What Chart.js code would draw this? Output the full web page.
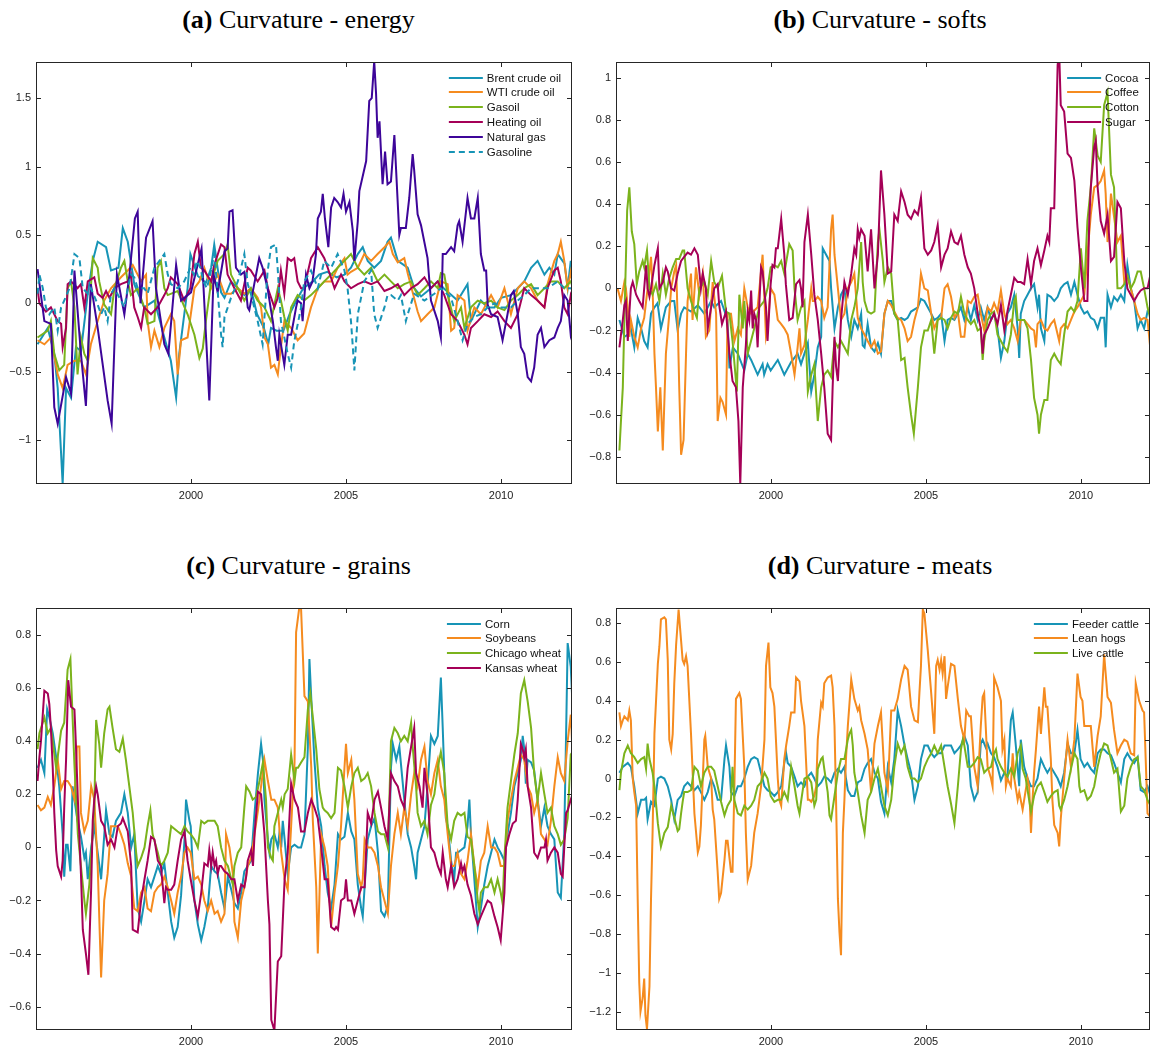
<!DOCTYPE html>
<html>
<head>
<meta charset="utf-8">
<title>Curvature</title>
<script src="https://cdn.jsdelivr.net/npm/chart.js@4.4.0/dist/chart.umd.min.js"></script>
<style>
  body { margin: 0; background: #fff; width: 1150px; height: 1047px; position: relative; overflow: hidden; }
  .title { position: absolute; font-family: "Liberation Serif", "Times New Roman", serif; font-size: 26px; line-height: 1; color: #000; text-align: center; white-space: nowrap; }
  .panel { position: absolute; }
</style>
</head>
<body>
<div class="title" style="left:0px;width:597px;top:7px"><b>(a)</b> Curvature - energy</div>
<div class="title" style="left:610px;width:540px;top:7px"><b>(b)</b> Curvature - softs</div>
<div class="title" style="left:0px;width:597px;top:553px"><b>(c)</b> Curvature - grains</div>
<div class="title" style="left:610px;width:540px;top:553px"><b>(d)</b> Curvature - meats</div>
<div class="panel" id="pa"><canvas id="ca"></canvas></div>
<div class="panel" id="pb"><canvas id="cb"></canvas></div>
<div class="panel" id="pc"><canvas id="cc"></canvas></div>
<div class="panel" id="pd"><canvas id="cd"></canvas></div>
<script>
// tick labels
const xTicks = [2000, 2005, 2010];
const yTicksEnergy = [-1, -0.5, 0, 0.5, 1, 1.5];
const yTicksSofts = [-0.8, -0.6, -0.4, -0.2, 0, 0.2, 0.4, 0.6, 0.8, 1];
const yTicksGrains = [-0.6, -0.4, -0.2, 0, 0.2, 0.4, 0.6, 0.8];
const yTicksMeats = [-1.2, -1, -0.8, -0.6, -0.4, -0.2, 0, 0.2, 0.4, 0.6, 0.8];

// series: [year, curvature]
// (a) energy
const brent = [[1995.05,-0.3],[1995.38,-0.18],[1995.59,-0.37],[1995.7,-0.62],[1995.86,-1.32],[1995.97,-0.62],[1996.13,-0.69],[1996.29,-0.32],[1996.45,-0.35],[1996.67,0.07],[1996.83,0.31],[1996.99,0.45],[1997.26,0.41],[1997.42,0.24],[1997.66,0.26],[1997.8,0.55],[1997.96,0.45],[1998.17,0.14],[1998.49,-0.03],[1998.82,0.02],[1999.14,-0.25],[1999.35,-0.42],[1999.52,-0.69],[1999.62,-0.37],[1999.89,0.11],[1999.98,0.36],[2000.22,0.2],[2000.48,0.15],[2000.65,0.26],[2000.75,0.43],[2000.97,0.08],[2001.08,0.04],[2001.29,0.16],[2001.51,0.11],[2001.72,0.06],[2001.93,0.11],[2002.13,-0.08],[2002.35,-0.18],[2002.49,-0.3],[2002.58,-0.18],[2002.76,-0.2],[2002.98,-0.2],[2003.18,-0.08],[2003.4,0.02],[2003.62,0.11],[2003.93,0.16],[2004.13,0.21],[2004.4,0.23],[2004.7,0.19],[2004.95,0.21],[2005.16,0.26],[2005.38,0.36],[2005.54,0.41],[2005.7,0.31],[2005.91,0.26],[2006.13,0.31],[2006.34,0.45],[2006.45,0.48],[2006.67,0.31],[2006.99,0.26],[2007.2,0.11],[2007.42,0.05],[2007.74,0.11],[2007.95,0.16],[2008.15,0.11],[2008.6,0.02],[2008.92,0.14],[2009.03,-0.13],[2009.35,0.02],[2009.57,-0.03],[2009.79,-0.03],[2010,0.04],[2010.32,0.06],[2010.54,0.11],[2010.75,0.16],[2010.97,0.26],[2011.18,0.31],[2011.4,0.21],[2011.56,0.26],[2011.72,0.21],[2011.83,0.36],[2012.05,0.29],[2012.15,0.11],[2012.25,0.31],[2012.31,0.14]];
const wti = [[1995.05,-0.27],[1995.27,-0.3],[1995.48,-0.25],[1995.7,-0.52],[1995.86,-0.62],[1996.02,-0.45],[1996.24,-0.42],[1996.45,-0.42],[1996.61,-0.52],[1996.77,-0.3],[1996.99,-0.13],[1997.2,0.02],[1997.42,0.11],[1997.74,0.19],[1997.96,0.24],[1998.12,0.28],[1998.39,0.16],[1998.55,0.21],[1998.6,-0.13],[1998.71,-0.32],[1998.82,-0.2],[1998.98,-0.32],[1999.14,-0.18],[1999.35,-0.08],[1999.46,-0.13],[1999.57,-0.52],[1999.68,-0.27],[1999.89,-0.25],[2000.11,0.11],[2000.27,0.16],[2000.43,0.26],[2000.65,0.11],[2000.86,0.21],[2001.08,0.07],[2001.29,0.07],[2001.51,0.11],[2001.72,0.07],[2001.93,0.11],[2002.15,0.04],[2002.26,-0.03],[2002.37,-0.25],[2002.48,-0.3],[2002.58,-0.47],[2002.69,-0.45],[2002.8,-0.52],[2002.9,-0.32],[2003.01,-0.13],[2003.23,-0.18],[2003.44,-0.27],[2003.65,-0.22],[2003.87,-0.03],[2004.09,0.11],[2004.3,0.16],[2004.52,0.16],[2004.73,0.26],[2004.95,0.33],[2005.05,0.21],[2005.16,0.23],[2005.38,0.26],[2005.59,0.36],[2005.81,0.31],[2006.02,0.36],[2006.24,0.41],[2006.4,0.45],[2006.51,0.36],[2006.67,0.3],[2006.88,0.33],[2006.99,0.22],[2007.31,-0.06],[2007.42,-0.13],[2007.63,-0.08],[2007.85,-0.03],[2008.06,0.16],[2008.28,0.14],[2008.39,-0.2],[2008.49,-0.18],[2008.6,0.06],[2008.82,0.02],[2008.92,-0.2],[2009.14,-0.03],[2009.35,-0.08],[2009.68,0.06],[2009.89,-0.03],[2010.11,0.11],[2010.32,-0.08],[2010.54,0.11],[2010.75,0.16],[2010.97,0.11],[2011.18,0.02],[2011.4,-0.03],[2011.5,0.14],[2011.72,0.31],[2011.83,0.36],[2011.93,0.45],[2012.04,0.31],[2012.15,0.11],[2012.25,0.23],[2012.31,0.15]];
const gasoil = [[1995.05,-0.25],[1995.38,-0.2],[1995.48,-0.13],[1995.59,-0.37],[1995.75,-0.49],[1995.91,-0.45],[1996.02,0.11],[1996.13,0.16],[1996.24,-0.03],[1996.34,-0.52],[1996.45,-0.25],[1996.56,-0.37],[1996.67,-0.42],[1996.77,0.11],[1996.83,0.33],[1996.99,0.26],[1997.04,0.16],[1997.2,-0.01],[1997.42,-0.08],[1997.53,0.11],[1997.74,0.26],[1997.85,0.31],[1997.96,0.16],[1998.06,0.06],[1998.28,0.11],[1998.49,-0.03],[1998.6,-0.15],[1998.82,-0.13],[1998.92,0.26],[1999.03,0.31],[1999.14,0.11],[1999.25,0.06],[1999.57,0.09],[1999.89,-0.08],[2000.11,-0.23],[2000.27,-0.4],[2000.38,-0.33],[2000.48,-0.13],[2000.65,0.16],[2000.86,0.31],[2001.08,0.36],[2001.18,0.43],[2001.29,0.21],[2001.51,0.11],[2001.72,0.02],[2001.93,0.11],[2002.15,0.02],[2002.37,-0.03],[2002.58,-0.13],[2002.8,0.11],[2002.9,0.02],[2003.01,-0.1],[2003.12,-0.2],[2003.23,-0.03],[2003.44,0.06],[2003.65,0.02],[2003.87,0.06],[2004.09,0.11],[2004.3,0.16],[2004.52,0.21],[2004.73,0.26],[2004.95,0.31],[2005.16,0.36],[2005.38,0.26],[2005.59,0.21],[2005.81,0.26],[2006.02,0.16],[2006.24,0.21],[2006.45,0.16],[2006.67,0.11],[2006.88,0.14],[2007.1,0.16],[2007.31,0.06],[2007.53,0.11],[2007.74,0.16],[2007.96,0.11],[2008.06,0.22],[2008.17,0.21],[2008.28,0.06],[2008.49,-0.13],[2008.71,-0.03],[2008.82,-0.18],[2009.03,-0.03],[2009.25,0.02],[2009.46,0],[2009.68,0.02],[2009.89,-0.03],[2010.11,-0.05],[2010.32,0.02],[2010.54,0.06],[2010.75,0.11],[2010.97,0.14],[2011.18,0.06],[2011.4,0.11],[2011.61,0.16],[2011.83,0.16],[2012.04,0.11],[2012.25,0.16],[2012.31,0.12]];
const heatingOil = [[1995.05,0.11],[1995.11,0],[1995.32,-0.06],[1995.48,-0.03],[1995.59,-0.08],[1995.7,-0.13],[1995.81,-0.15],[1995.86,-0.32],[1995.97,-0.18],[1996.02,0.14],[1996.13,0.16],[1996.34,0.11],[1996.45,0.14],[1996.56,-0.03],[1996.67,0.16],[1996.88,0.19],[1996.99,0.07],[1997.15,0.04],[1997.26,0.09],[1997.37,0.04],[1997.53,0.11],[1997.74,0.14],[1997.96,0.16],[1998.06,0.21],[1998.17,-0.03],[1998.28,-0.1],[1998.39,-0.18],[1998.49,-0.03],[1998.71,-0.08],[1998.92,-0.03],[1999.14,0.06],[1999.25,0.11],[1999.35,0.19],[1999.57,0.14],[1999.78,0.02],[1999.98,0.11],[2000.11,0.36],[2000.22,0.45],[2000.32,0.26],[2000.43,0.24],[2000.65,0.16],[2000.75,0.28],[2000.97,0.43],[2001.08,0.41],[2001.18,0.21],[2001.4,0.11],[2001.61,0.02],[2001.83,0.26],[2001.93,0.24],[2002.15,0.16],[2002.37,0.24],[2002.48,0.11],[2002.69,-0.03],[2002.8,0.04],[2002.9,0.24],[2003.01,0.07],[2003.12,0.33],[2003.23,0.31],[2003.33,0.33],[2003.44,0.16],[2003.55,0.11],[2003.65,0.11],[2003.87,0.33],[2004.09,0.41],[2004.3,0.33],[2004.41,0.26],[2004.63,0.11],[2004.84,0.21],[2004.95,0.16],[2005.16,0.11],[2005.38,0.14],[2005.59,0.16],[2005.81,0.14],[2006.02,0.16],[2006.24,0.09],[2006.45,0.11],[2006.67,0.14],[2006.88,0.06],[2007.1,0.11],[2007.31,0.14],[2007.53,0.19],[2007.74,0.11],[2007.96,0.16],[2008.17,0.06],[2008.39,-0.08],[2008.6,-0.13],[2008.82,-0.23],[2008.92,-0.3],[2009.03,-0.18],[2009.25,-0.13],[2009.46,-0.08],[2009.68,-0.1],[2009.89,-0.06],[2010.11,-0.13],[2010.32,-0.18],[2010.54,-0.08],[2010.75,0.11],[2010.97,0.06],[2011.18,0.02],[2011.4,-0.03],[2011.5,0.11],[2011.72,0.24],[2011.83,0.26],[2011.93,0.16],[2012.04,-0.03],[2012.15,-0.08],[2012.25,0.06],[2012.31,0.02]];
const naturalGas = [[1995.05,0.25],[1995.27,-0.13],[1995.48,-0.15],[1995.59,-0.76],[1995.7,-0.88],[1995.97,-0.54],[1996.13,-0.66],[1996.24,0.24],[1996.45,-0.37],[1996.61,-0.75],[1996.77,0.14],[1996.99,-0.18],[1997.31,-0.71],[1997.44,-0.88],[1997.61,0.21],[1997.85,-0.08],[1998.01,0.2],[1998.19,0.62],[1998.28,0.67],[1998.37,0],[1998.55,0.48],[1998.76,0.6],[1998.87,0.11],[1999.14,-0.3],[1999.27,-0.37],[1999.52,0.28],[1999.68,0.02],[2000,0.08],[2000.34,0.4],[2000.59,-0.71],[2000.73,0.21],[2000.86,0.08],[2001.08,0.38],[2001.18,0.4],[2001.24,0.67],[2001.34,0.68],[2001.45,0.26],[2001.61,0.21],[2001.72,0.23],[2001.83,-0.03],[2001.88,-0.05],[2002.04,0.14],[2002.2,0.33],[2002.31,0.26],[2002.47,0.11],[2002.58,-0.05],[2002.64,-0.13],[2002.74,-0.32],[2002.8,-0.42],[2002.85,-0.23],[2003.01,-0.45],[2003.12,-0.23],[2003.23,-0.23],[2003.39,-0.03],[2003.44,0.02],[2003.55,0],[2003.6,-0.13],[2003.71,0.21],[2003.82,0.11],[2003.92,0.16],[2004.03,0.36],[2004.09,0.62],[2004.19,0.67],[2004.25,0.8],[2004.32,0.62],[2004.43,0.41],[2004.52,0.7],[2004.62,0.77],[2004.73,0.74],[2004.84,0.7],[2004.92,0.8],[2005,0.67],[2005.11,0.74],[2005.22,0.53],[2005.27,0.31],[2005.38,0.6],[2005.43,0.82],[2005.65,1.04],[2005.75,1.48],[2005.83,1.5],[2005.91,1.77],[2005.97,1.53],[2006.02,1.21],[2006.08,1.33],[2006.18,0.87],[2006.26,1.11],[2006.34,0.87],[2006.45,0.89],[2006.56,1.23],[2006.72,0.5],[2006.77,0.55],[2006.93,0.55],[2007.04,0.77],[2007.15,1.09],[2007.2,0.97],[2007.31,0.65],[2007.42,0.57],[2007.63,0.33],[2007.74,0.02],[2007.96,-0.13],[2008.06,-0.25],[2008.12,0.36],[2008.22,0.36],[2008.39,0.41],[2008.49,0.38],[2008.6,0.57],[2008.65,0.6],[2008.76,0.45],[2008.92,0.77],[2009.03,0.62],[2009.14,0.62],[2009.25,0.77],[2009.35,0.36],[2009.46,0.24],[2009.52,0.24],[2009.57,-0.01],[2009.68,-0.08],[2009.89,-0.1],[2010.05,-0.27],[2010.11,-0.2],[2010.21,-0.08],[2010.32,0.06],[2010.41,0.09],[2010.54,-0.08],[2010.64,-0.32],[2010.75,-0.37],[2010.86,-0.54],[2010.97,-0.57],[2011.07,-0.47],[2011.18,-0.23],[2011.29,-0.18],[2011.4,-0.32],[2011.56,-0.27],[2011.72,-0.25],[2011.83,-0.18],[2011.93,-0.13],[2012.04,0.06],[2012.15,0.02],[2012.25,-0.23],[2012.31,-0.18]];
const gasoline = [[1995.05,0.07],[1995.11,0.21],[1995.22,0.11],[1995.32,-0.03],[1995.43,-0.08],[1995.59,-0.03],[1995.7,-0.2],[1995.81,-0.03],[1995.91,0.02],[1996.08,0.11],[1996.18,0.26],[1996.24,0.36],[1996.4,0.33],[1996.51,0.11],[1996.67,0.07],[1996.77,0.11],[1996.94,0.02],[1997.1,-0.08],[1997.2,-0.03],[1997.31,-0.13],[1997.42,0.07],[1997.53,0.11],[1997.74,0.02],[1997.85,-0.03],[1997.96,0.11],[1998.06,0.21],[1998.17,0.19],[1998.28,0.11],[1998.49,0.11],[1998.6,0.07],[1998.82,0.26],[1998.98,0.31],[1999.14,0.36],[1999.25,0.21],[1999.35,0.14],[1999.57,0.11],[1999.78,0.16],[1999.98,0.26],[2000.09,0.21],[2000.19,0.31],[2000.3,0.26],[2000.4,0.16],[2000.51,0.11],[2000.62,0.21],[2000.75,0.36],[2000.86,0.09],[2000.97,-0.23],[2001.02,-0.32],[2001.08,-0.1],[2001.29,0.04],[2001.51,0.16],[2001.72,0.36],[2001.83,0.14],[2001.93,0.07],[2002.15,-0.13],[2002.31,-0.3],[2002.47,0.23],[2002.58,0.41],[2002.74,0.43],[2002.8,0.24],[2002.9,-0.13],[2003.12,-0.37],[2003.23,-0.47],[2003.33,-0.28],[2003.55,-0.03],[2003.65,0.16],[2003.87,0.24],[2004.09,0.11],[2004.3,0.31],[2004.52,0.26],[2004.73,0.36],[2004.95,0.24],[2005.05,0.11],[2005.16,-0.13],[2005.22,-0.32],[2005.27,-0.49],[2005.38,-0.08],[2005.59,0.16],[2005.81,0.24],[2005.91,-0.08],[2006.02,-0.18],[2006.24,-0.03],[2006.34,0.06],[2006.45,0.06],[2006.67,0.02],[2006.77,0.06],[2006.93,-0.13],[2006.99,-0.08],[2007.2,0.07],[2007.53,0.02],[2007.85,0.07],[2008.06,0.11],[2008.39,0.04],[2008.6,-0.13],[2008.76,-0.27],[2008.92,-0.15],[2009.14,-0.1],[2009.35,-0.08],[2009.57,-0.03],[2009.79,0],[2009.99,-0.03],[2010.32,-0.03],[2010.54,0.02],[2010.75,0.06],[2010.97,0.11],[2011.29,0.11],[2011.5,0.11],[2011.83,0.16],[2012.04,0.11],[2012.25,0.11],[2012.31,0.1]];

// (b) softs
const cocoa = [[1995.11,-0.15],[1995.27,-0.23],[1995.38,-0.22],[1995.48,-0.19],[1995.59,-0.28],[1995.7,-0.14],[1995.81,-0.19],[1995.91,-0.25],[1996.02,-0.28],[1996.13,-0.12],[1996.24,-0.09],[1996.34,-0.07],[1996.45,-0.19],[1996.61,-0.09],[1996.78,-0.06],[1996.88,-0.06],[1996.99,-0.2],[1997.1,-0.12],[1997.2,-0.09],[1997.42,-0.11],[1997.64,-0.08],[1997.85,-0.12],[1998.07,-0.06],[1998.17,-0.09],[1998.39,-0.06],[1998.6,-0.15],[1998.66,-0.38],[1998.77,-0.28],[1998.93,-0.31],[1999.14,-0.39],[1999.25,-0.31],[1999.36,-0.34],[1999.57,-0.41],[1999.73,-0.36],[1999.78,-0.41],[1999.89,-0.36],[1999.99,-0.39],[2000.22,-0.34],[2000.43,-0.41],[2000.65,-0.35],[2000.86,-0.31],[2000.97,-0.36],[2001.08,-0.31],[2001.19,-0.26],[2001.3,-0.49],[2001.4,-0.41],[2001.51,-0.28],[2001.62,-0.23],[2001.67,0.19],[2001.78,0.16],[2001.89,0.13],[2001.94,0],[2002.05,-0.19],[2002.16,-0.09],[2002.26,-0.03],[2002.37,0],[2002.48,-0.15],[2002.59,-0.23],[2002.69,-0.15],[2002.8,-0.19],[2002.91,-0.12],[2002.96,-0.27],[2003.02,-0.28],[2003.12,-0.17],[2003.23,-0.28],[2003.34,-0.3],[2003.45,-0.26],[2003.55,-0.31],[2003.66,-0.12],[2003.77,-0.06],[2003.88,-0.06],[2003.98,-0.12],[2004.09,-0.15],[2004.2,-0.14],[2004.31,-0.15],[2004.41,-0.14],[2004.52,-0.11],[2004.74,-0.09],[2004.84,-0.05],[2004.95,-0.06],[2005.06,-0.09],[2005.17,-0.12],[2005.27,-0.15],[2005.38,-0.14],[2005.49,-0.12],[2005.6,-0.25],[2005.7,-0.15],[2005.81,-0.14],[2005.92,-0.15],[2006.03,-0.12],[2006.13,-0.09],[2006.24,-0.15],[2006.35,-0.09],[2006.45,-0.15],[2006.56,-0.08],[2006.67,-0.15],[2006.77,-0.09],[2006.88,-0.15],[2006.99,-0.09],[2007.1,-0.15],[2007.2,-0.12],[2007.31,-0.19],[2007.42,-0.33],[2007.53,-0.25],[2007.63,-0.12],[2007.74,-0.09],[2007.85,-0.03],[2007.96,-0.19],[2008.01,-0.33],[2008.06,-0.12],[2008.17,-0.06],[2008.28,-0.03],[2008.39,0],[2008.49,0.02],[2008.6,-0.09],[2008.65,-0.03],[2008.71,-0.19],[2008.82,-0.25],[2008.92,-0.03],[2009.03,-0.04],[2009.14,-0.06],[2009.25,-0.04],[2009.35,0],[2009.46,0.02],[2009.57,0.03],[2009.68,-0.03],[2009.79,0.03],[2009.89,-0.03],[2010,-0.09],[2010.11,-0.12],[2010.21,-0.11],[2010.32,-0.14],[2010.43,-0.15],[2010.54,-0.19],[2010.64,-0.14],[2010.75,-0.14],[2010.8,-0.28],[2010.86,-0.03],[2010.97,-0.09],[2011.07,-0.04],[2011.18,-0.06],[2011.29,-0.03],[2011.4,-0.06],[2011.5,0.11],[2011.61,0],[2011.72,-0.06],[2011.83,-0.19],[2011.93,-0.15],[2012.04,-0.19],[2012.15,-0.11],[2012.25,-0.12],[2012.31,-0.14]];
const coffee = [[1995.05,0],[1995.16,-0.06],[1995.27,0.03],[1995.32,0],[1995.38,-0.09],[1995.43,-0.23],[1995.48,-0.15],[1995.59,-0.23],[1995.7,-0.28],[1995.81,-0.19],[1995.91,-0.14],[1996.02,0],[1996.13,0.15],[1996.18,0],[1996.24,-0.31],[1996.29,-0.47],[1996.35,-0.68],[1996.43,-0.47],[1996.51,-0.77],[1996.61,-0.31],[1996.72,-0.12],[1996.78,0],[1996.88,0.08],[1996.94,0.11],[1996.99,-0.15],[1997.04,-0.47],[1997.1,-0.79],[1997.18,-0.72],[1997.26,-0.31],[1997.31,-0.06],[1997.42,0.07],[1997.47,-0.15],[1997.58,0.1],[1997.69,-0.03],[1997.8,0.07],[1997.9,-0.23],[1998.01,-0.2],[1998.12,0.03],[1998.23,-0.12],[1998.28,-0.63],[1998.37,-0.52],[1998.44,-0.54],[1998.55,-0.6],[1998.6,-0.12],[1998.71,-0.12],[1998.82,-0.25],[1998.93,-0.19],[1999.03,-0.22],[1999.14,0],[1999.25,-0.09],[1999.36,-0.12],[1999.57,-0.09],[1999.73,0.16],[1999.84,-0.23],[1999.89,-0.19],[1999.99,0],[2000.11,-0.03],[2000.22,-0.15],[2000.33,-0.17],[2000.43,-0.19],[2000.54,-0.22],[2000.65,-0.31],[2000.76,-0.41],[2000.86,-0.28],[2000.92,-0.19],[2000.97,-0.31],[2001.08,-0.27],[2001.19,-0.15],[2001.3,0],[2001.35,-0.06],[2001.4,-0.06],[2001.51,-0.04],[2001.62,-0.06],[2001.72,-0.14],[2001.83,-0.09],[2001.94,0.28],[2001.99,0.35],[2002.05,0.16],[2002.16,0],[2002.26,-0.15],[2002.37,-0.12],[2002.48,0],[2002.59,0.03],[2002.69,0.07],[2002.8,-0.14],[2002.91,-0.19],[2003.02,-0.22],[2003.12,-0.25],[2003.23,-0.28],[2003.34,-0.25],[2003.45,-0.31],[2003.55,-0.3],[2003.66,-0.12],[2003.77,-0.06],[2003.88,-0.08],[2003.98,-0.11],[2004.09,-0.14],[2004.2,-0.15],[2004.31,-0.19],[2004.41,-0.25],[2004.52,-0.23],[2004.63,-0.15],[2004.74,-0.09],[2004.84,0.07],[2004.95,0],[2005.06,-0.01],[2005.17,-0.12],[2005.27,-0.19],[2005.38,-0.15],[2005.49,-0.14],[2005.6,0],[2005.7,0.02],[2005.81,-0.04],[2005.92,-0.14],[2006.03,-0.11],[2006.13,-0.23],[2006.24,-0.23],[2006.35,-0.06],[2006.45,-0.07],[2006.56,-0.04],[2006.67,-0.03],[2006.77,-0.12],[2006.88,-0.2],[2006.99,-0.09],[2007.1,-0.11],[2007.2,-0.07],[2007.31,-0.11],[2007.42,-0.01],[2007.53,-0.12],[2007.63,-0.17],[2007.74,-0.15],[2007.85,-0.19],[2007.96,-0.25],[2008.06,-0.15],[2008.17,-0.15],[2008.28,-0.17],[2008.39,-0.19],[2008.49,-0.2],[2008.55,-0.28],[2008.6,-0.17],[2008.71,-0.15],[2008.82,-0.19],[2008.92,-0.2],[2009.03,-0.17],[2009.14,-0.15],[2009.3,-0.25],[2009.35,-0.19],[2009.46,-0.17],[2009.57,-0.19],[2009.68,-0.15],[2009.79,-0.11],[2009.89,-0.09],[2010,-0.06],[2010.11,-0.03],[2010.21,0.16],[2010.32,0.35],[2010.43,0.48],[2010.54,0.49],[2010.64,0.51],[2010.75,0.56],[2010.8,0.45],[2010.86,0.22],[2010.91,0.3],[2010.97,0.45],[2011.18,0.22],[2011.29,0.25],[2011.4,0.03],[2011.5,0.06],[2011.61,0],[2011.72,-0.06],[2011.83,-0.12],[2011.93,-0.15],[2012.04,-0.14],[2012.15,-0.15],[2012.25,-0.3]];
const cotton = [[1995.11,-0.77],[1995.16,-0.63],[1995.22,-0.47],[1995.27,-0.15],[1995.36,0.37],[1995.43,0.48],[1995.51,0.27],[1995.59,0.21],[1995.67,0.02],[1995.75,0.08],[1995.86,0.13],[1995.91,0.1],[1996,0.18],[1996.08,0],[1996.18,-0.03],[1996.29,0.02],[1996.4,-0.06],[1996.51,0.07],[1996.61,-0.03],[1996.72,0.05],[1996.83,0.1],[1996.94,0.14],[1997.04,0.14],[1997.15,0.18],[1997.2,0.18],[1997.31,0],[1997.42,-0.06],[1997.53,-0.11],[1997.61,-0.14],[1997.69,0],[1997.85,0.03],[1997.96,-0.03],[1998.07,0.13],[1998.17,0.03],[1998.28,0],[1998.42,0.06],[1998.55,-0.11],[1998.66,-0.12],[1998.76,-0.25],[1998.9,-0.49],[1998.98,-0.03],[1999.09,-0.19],[1999.14,-0.06],[1999.25,-0.31],[1999.46,-0.19],[1999.62,-0.09],[1999.78,-0.06],[1999.89,0],[1999.99,0.1],[2000.11,0.11],[2000.22,0.1],[2000.33,0.13],[2000.43,0.07],[2000.59,0.21],[2000.7,0.18],[2000.76,0],[2000.86,-0.15],[2000.97,-0.09],[2001.08,-0.06],[2001.19,-0.49],[2001.3,-0.41],[2001.4,-0.36],[2001.51,-0.63],[2001.62,-0.47],[2001.72,-0.41],[2001.83,-0.39],[2001.94,-0.42],[2002.05,-0.25],[2002.16,-0.28],[2002.26,-0.25],[2002.37,-0.28],[2002.48,-0.31],[2002.59,-0.15],[2002.69,-0.09],[2002.8,0],[2002.91,0.22],[2002.96,0.03],[2003.02,-0.06],[2003.12,-0.11],[2003.23,-0.12],[2003.34,-0.11],[2003.45,0.22],[2003.5,0.28],[2003.61,0.13],[2003.66,0.03],[2003.77,0.1],[2003.88,0.07],[2003.98,-0.12],[2004.09,-0.15],[2004.2,-0.34],[2004.31,-0.33],[2004.41,-0.47],[2004.52,-0.6],[2004.61,-0.69],[2004.74,-0.47],[2004.84,-0.28],[2004.95,-0.2],[2005.06,-0.2],[2005.17,-0.15],[2005.27,-0.31],[2005.38,-0.15],[2005.49,-0.14],[2005.6,-0.15],[2005.7,-0.19],[2005.81,-0.14],[2005.92,-0.11],[2006.03,-0.12],[2006.13,-0.04],[2006.24,-0.12],[2006.35,-0.15],[2006.45,-0.17],[2006.56,-0.15],[2006.67,-0.2],[2006.77,-0.19],[2006.83,-0.34],[2006.88,-0.25],[2006.99,-0.15],[2007.1,-0.12],[2007.2,-0.11],[2007.31,-0.22],[2007.42,-0.25],[2007.53,-0.28],[2007.63,-0.3],[2007.74,-0.22],[2007.85,-0.06],[2007.9,-0.04],[2007.96,-0.15],[2008.06,-0.15],[2008.17,-0.15],[2008.28,-0.19],[2008.39,-0.34],[2008.49,-0.52],[2008.6,-0.6],[2008.65,-0.69],[2008.71,-0.6],[2008.82,-0.53],[2008.92,-0.53],[2009.03,-0.34],[2009.14,-0.31],[2009.25,-0.34],[2009.35,-0.36],[2009.46,-0.22],[2009.57,-0.11],[2009.68,-0.09],[2009.79,-0.11],[2009.89,-0.06],[2010,0.19],[2010.11,0],[2010.16,0.16],[2010.21,0.32],[2010.32,0.48],[2010.43,0.76],[2010.54,0.63],[2010.64,0.6],[2010.75,0.87],[2010.86,0.93],[2010.97,0.54],[2011.07,0.48],[2011.13,0.22],[2011.18,0],[2011.29,0],[2011.4,0.02],[2011.5,0.06],[2011.61,0],[2011.72,0.03],[2011.83,0.08],[2011.93,0.08],[2012.04,0],[2012.15,-0.09],[2012.25,-0.15]];
const sugar = [[1995.11,-0.28],[1995.22,-0.15],[1995.27,-0.08],[1995.32,-0.06],[1995.38,-0.25],[1995.43,-0.12],[1995.48,0],[1995.54,0.03],[1995.65,-0.03],[1995.75,-0.06],[1995.86,-0.09],[1995.97,0.11],[1996.02,0],[1996.08,-0.04],[1996.13,0],[1996.24,0.11],[1996.35,0.19],[1996.4,0],[1996.51,0.03],[1996.61,0.1],[1996.67,0.08],[1996.78,0],[1996.88,-0.01],[1996.99,0.07],[1997.1,0.13],[1997.2,0.15],[1997.31,0.17],[1997.42,0.16],[1997.53,0.19],[1997.64,0.16],[1997.74,0],[1997.8,0.07],[1997.9,0],[1997.96,-0.19],[1998.07,-0.09],[1998.17,0],[1998.28,0.02],[1998.33,-0.08],[1998.42,-0.17],[1998.55,-0.11],[1998.66,-0.31],[1998.76,-0.44],[1998.87,-0.47],[1998.95,-0.63],[1999.01,-0.93],[1999.09,-0.47],[1999.19,-0.27],[1999.25,-0.11],[1999.3,-0.15],[1999.36,-0.01],[1999.41,-0.19],[1999.46,-0.12],[1999.52,-0.15],[1999.57,-0.28],[1999.62,-0.09],[1999.68,0.1],[1999.73,0.08],[1999.78,0],[1999.84,-0.09],[1999.89,-0.25],[1999.99,0.02],[2000.05,0.11],[2000.11,0.1],[2000.16,0.19],[2000.22,0.19],[2000.33,0.33],[2000.43,0.16],[2000.48,0.02],[2000.59,-0.15],[2000.7,-0.14],[2000.81,0.02],[2000.92,0.04],[2000.97,0],[2001.02,-0.09],[2001.08,0.22],[2001.19,0.35],[2001.3,0.16],[2001.4,-0.03],[2001.51,-0.15],[2001.62,-0.31],[2001.72,-0.47],[2001.83,-0.69],[2001.94,-0.72],[2001.99,-0.47],[2002.05,-0.23],[2002.1,-0.37],[2002.16,-0.44],[2002.26,-0.15],[2002.37,0.03],[2002.42,0],[2002.48,-0.03],[2002.59,0.07],[2002.69,0.19],[2002.75,0.16],[2002.8,0.28],[2002.85,0.24],[2002.91,0.28],[2003.02,0.25],[2003.12,0.08],[2003.23,0.28],[2003.34,0],[2003.45,0.16],[2003.55,0.56],[2003.66,0.35],[2003.77,0.07],[2003.88,0.08],[2003.98,0.35],[2004.09,0.32],[2004.2,0.46],[2004.31,0.41],[2004.41,0.35],[2004.52,0.33],[2004.63,0.37],[2004.74,0.35],[2004.84,0.43],[2004.95,0.19],[2005.06,0.16],[2005.17,0.18],[2005.27,0.22],[2005.38,0.3],[2005.49,0.1],[2005.6,0.16],[2005.7,0.19],[2005.81,0.27],[2005.92,0.22],[2006.03,0.21],[2006.13,0.25],[2006.24,0.16],[2006.35,0.1],[2006.45,0.07],[2006.56,0],[2006.67,-0.12],[2006.77,-0.19],[2006.83,-0.31],[2006.88,-0.22],[2006.99,-0.19],[2007.1,-0.15],[2007.2,-0.12],[2007.31,-0.17],[2007.42,-0.08],[2007.53,-0.2],[2007.63,-0.11],[2007.74,-0.03],[2007.85,0.05],[2007.96,0.03],[2008.06,0.03],[2008.17,0.02],[2008.28,0.14],[2008.39,0.02],[2008.49,0.13],[2008.6,0.19],[2008.71,0.11],[2008.82,0.18],[2008.92,0.25],[2008.98,0.22],[2009.03,0.38],[2009.14,0.38],[2009.25,1.06],[2009.3,1.12],[2009.35,0.87],[2009.46,0.84],[2009.57,0.64],[2009.68,0.62],[2009.79,0.51],[2009.89,0.29],[2010,0.1],[2010.11,-0.06],[2010.21,-0.06],[2010.27,0.32],[2010.32,0.48],[2010.43,0.67],[2010.48,0.7],[2010.54,0.48],[2010.64,0.32],[2010.75,0.26],[2010.86,0.35],[2010.97,0.13],[2011.07,0.15],[2011.18,0.41],[2011.29,0.38],[2011.4,0.13],[2011.5,0],[2011.61,-0.03],[2011.72,-0.06],[2011.83,-0.03],[2011.93,-0.01],[2012.04,0],[2012.15,0],[2012.25,0.07],[2012.31,-0.06]];

// (c) grains
const corn = [[1995.05,0.3],[1995.16,0.33],[1995.27,0.28],[1995.36,0.52],[1995.43,0.49],[1995.54,0.43],[1995.65,0.34],[1995.75,0.23],[1995.86,0.05],[1995.91,-0.11],[1995.97,0.01],[1996.02,0.01],[1996.11,-0.09],[1996.18,0.23],[1996.24,0.18],[1996.34,0.1],[1996.45,0.04],[1996.56,-0.04],[1996.61,-0.02],[1996.67,-0.12],[1996.78,0],[1996.88,0.08],[1996.99,-0.02],[1997.1,-0.12],[1997.26,0.14],[1997.37,0.05],[1997.47,0.04],[1997.58,0.1],[1997.74,0.13],[1997.85,0.2],[1997.96,0.13],[1998.07,0],[1998.17,0.05],[1998.28,-0.23],[1998.39,-0.28],[1998.5,-0.2],[1998.6,-0.12],[1998.71,-0.15],[1998.82,-0.11],[1998.93,-0.07],[1999.03,-0.1],[1999.14,-0.06],[1999.25,-0.17],[1999.36,-0.28],[1999.46,-0.34],[1999.57,-0.3],[1999.68,-0.18],[1999.79,0.03],[1999.84,0.18],[1999.95,0.1],[1999.99,0.08],[2000.11,-0.2],[2000.22,-0.29],[2000.33,-0.35],[2000.43,-0.3],[2000.54,-0.23],[2000.65,-0.07],[2000.76,-0.09],[2000.86,-0.1],[2000.97,-0.17],[2001.08,-0.23],[2001.19,-0.11],[2001.3,-0.16],[2001.4,-0.21],[2001.51,-0.23],[2001.62,-0.17],[2001.72,-0.09],[2001.83,-0.07],[2001.94,-0.05],[2002.05,0.13],[2002.16,0.28],[2002.26,0.39],[2002.32,0.33],[2002.37,0.18],[2002.48,0.03],[2002.53,-0.02],[2002.59,0.03],[2002.69,0.05],[2002.8,0],[2002.85,0.05],[2002.91,0],[2002.96,0.1],[2003.02,0.03],[2003.12,-0.1],[2003.23,0],[2003.34,0.01],[2003.45,0],[2003.55,0],[2003.66,0.05],[2003.77,0.38],[2003.82,0.71],[2003.88,0.56],[2003.98,0.33],[2004.09,0.15],[2004.2,0.08],[2004.31,-0.07],[2004.41,-0.17],[2004.52,-0.23],[2004.63,-0.14],[2004.74,0.05],[2004.84,0.03],[2004.95,0.04],[2005.06,0.13],[2005.17,0.06],[2005.27,0.03],[2005.38,-0.14],[2005.49,-0.23],[2005.54,-0.26],[2005.6,-0.15],[2005.7,0.03],[2005.81,0.08],[2005.92,0.11],[2006.03,-0.02],[2006.13,-0.24],[2006.24,-0.26],[2006.35,-0.22],[2006.45,0.3],[2006.51,0.39],[2006.62,0.33],[2006.72,0.38],[2006.88,0.18],[2006.99,0.05],[2007.1,0],[2007.2,-0.07],[2007.26,-0.12],[2007.31,-0.02],[2007.42,0.03],[2007.53,0.08],[2007.63,0.23],[2007.74,0.42],[2007.85,0.39],[2007.96,0.42],[2008.06,0.64],[2008.12,0.45],[2008.22,0.11],[2008.28,0.08],[2008.39,-0.05],[2008.49,-0.12],[2008.55,-0.02],[2008.6,-0.02],[2008.71,-0.01],[2008.82,0],[2008.92,0.08],[2008.98,0.18],[2009.03,0.05],[2009.14,-0.12],[2009.25,-0.3],[2009.35,-0.23],[2009.46,-0.14],[2009.57,-0.07],[2009.68,-0.02],[2009.79,0.03],[2009.89,0],[2009.99,-0.02],[2010.11,-0.05],[2010.21,0.05],[2010.32,0.13],[2010.43,0.23],[2010.54,0.28],[2010.64,0.33],[2010.7,0.42],[2010.75,0.37],[2010.8,0.24],[2010.86,0.33],[2010.97,0.32],[2011.07,0.29],[2011.18,0.18],[2011.29,0.08],[2011.4,0.15],[2011.5,0.08],[2011.61,0.05],[2011.72,0.03],[2011.83,-0.17],[2011.93,-0.19],[2012.04,0.05],[2012.1,0.43],[2012.15,0.77],[2012.25,0.68],[2012.31,0.53]];
const soybeans = [[1995.05,0.16],[1995.16,0.14],[1995.27,0.15],[1995.38,0.19],[1995.48,0.16],[1995.59,0.23],[1995.7,0.33],[1995.81,0.22],[1995.91,0.25],[1996.02,0.25],[1996.13,0.23],[1996.24,0.18],[1996.32,0.38],[1996.4,0.38],[1996.45,0.13],[1996.56,0.06],[1996.67,0.1],[1996.78,0.23],[1996.88,0.18],[1996.99,-0.07],[1997.1,-0.49],[1997.2,-0.2],[1997.31,-0.1],[1997.42,0.08],[1997.53,0.08],[1997.64,0.08],[1997.74,0.05],[1997.85,0.01],[1997.96,-0.06],[1998.07,-0.11],[1998.17,-0.23],[1998.28,-0.24],[1998.39,-0.17],[1998.5,-0.15],[1998.6,-0.23],[1998.71,-0.24],[1998.82,-0.17],[1998.93,-0.15],[1999.03,-0.14],[1999.14,-0.11],[1999.25,-0.15],[1999.36,-0.2],[1999.46,-0.25],[1999.57,-0.17],[1999.68,-0.11],[1999.79,-0.02],[1999.89,0],[1999.99,-0.02],[2000.11,-0.12],[2000.22,-0.11],[2000.33,-0.14],[2000.43,-0.2],[2000.54,-0.24],[2000.65,-0.2],[2000.76,-0.25],[2000.86,-0.24],[2000.97,-0.28],[2001.08,-0.25],[2001.13,0.05],[2001.24,0],[2001.35,-0.1],[2001.4,-0.28],[2001.51,-0.34],[2001.62,-0.2],[2001.72,-0.15],[2001.83,-0.07],[2001.94,-0.04],[2002.05,0.05],[2002.16,0.14],[2002.26,0.23],[2002.37,0.33],[2002.48,0.25],[2002.59,0.18],[2002.69,0.18],[2002.8,0.15],[2002.91,-0.02],[2003.02,-0.12],[2003.12,-0.16],[2003.23,0.08],[2003.34,0.32],[2003.39,0.81],[2003.5,0.91],[2003.55,0.9],[2003.66,0.57],[2003.77,0.55],[2003.88,0.3],[2003.93,0.1],[2004.04,-0.15],[2004.09,-0.4],[2004.2,0.05],[2004.31,0],[2004.41,-0.07],[2004.52,-0.3],[2004.63,-0.17],[2004.74,-0.07],[2004.84,0.08],[2004.95,0.3],[2005,0.39],[2005.06,0.28],[2005.17,0.33],[2005.27,0.18],[2005.38,-0.1],[2005.49,-0.15],[2005.54,-0.12],[2005.6,0.03],[2005.7,0],[2005.81,0],[2005.92,-0.02],[2006.03,-0.07],[2006.13,-0.15],[2006.24,-0.2],[2006.35,-0.25],[2006.45,-0.07],[2006.56,0.05],[2006.67,0.13],[2006.77,0.05],[2006.88,0.15],[2006.99,0.08],[2007.1,0.2],[2007.2,0.28],[2007.31,0.23],[2007.42,0.33],[2007.53,0.38],[2007.63,0.25],[2007.74,0.2],[2007.85,0.28],[2007.96,0.33],[2008.06,0.23],[2008.17,0.18],[2008.28,0.05],[2008.39,-0.07],[2008.49,-0.07],[2008.6,-0.02],[2008.71,-0.1],[2008.82,-0.12],[2008.92,-0.05],[2009.03,0.05],[2009.14,-0.07],[2009.25,-0.15],[2009.35,-0.05],[2009.46,-0.02],[2009.57,0.08],[2009.68,0],[2009.79,0],[2009.89,-0.02],[2009.99,-0.07],[2010.11,-0.07],[2010.21,0.1],[2010.32,0.18],[2010.43,0.25],[2010.54,0.3],[2010.64,0.35],[2010.75,0.33],[2010.86,0.23],[2010.97,0.2],[2011.07,0.13],[2011.18,0.18],[2011.29,0.05],[2011.4,0.03],[2011.5,0.01],[2011.61,0.1],[2011.72,0.23],[2011.83,0.34],[2011.93,0.28],[2012.04,0.25],[2012.15,0.4],[2012.25,0.5],[2012.31,0.35]];
const chicagoWheat = [[1995.05,0.37],[1995.11,0.43],[1995.27,0.49],[1995.38,0.43],[1995.48,0.45],[1995.65,0.3],[1995.7,0.34],[1995.81,0.44],[1995.91,0.47],[1996.02,0.67],[1996.11,0.71],[1996.18,0.49],[1996.24,0.31],[1996.35,0.05],[1996.45,-0.07],[1996.56,-0.2],[1996.61,-0.25],[1996.72,-0.14],[1996.88,0.15],[1996.94,0.48],[1997.04,0.39],[1997.1,0.3],[1997.2,0.43],[1997.31,0.52],[1997.37,0.53],[1997.47,0.45],[1997.58,0.37],[1997.69,0.36],[1997.8,0.41],[1997.9,0.33],[1998.01,0.23],[1998.12,0.13],[1998.23,-0.02],[1998.28,-0.07],[1998.39,-0.04],[1998.5,0],[1998.6,0.08],[1998.69,0.14],[1998.76,0.05],[1998.93,-0.02],[1999.03,-0.07],[1999.14,-0.05],[1999.25,-0.02],[1999.36,0.08],[1999.57,0.06],[1999.68,0.05],[1999.79,0.08],[1999.89,0.06],[1999.99,0.05],[2000.11,0.03],[2000.22,0],[2000.33,0.1],[2000.43,0.09],[2000.54,0.1],[2000.65,0.1],[2000.76,0.1],[2000.86,0.08],[2000.97,0],[2001.08,-0.05],[2001.19,-0.07],[2001.3,-0.12],[2001.35,-0.14],[2001.4,-0.07],[2001.51,-0.02],[2001.62,0],[2001.72,0.15],[2001.78,0.23],[2001.89,0.21],[2001.99,0.18],[2002.1,0.19],[2002.21,0.25],[2002.32,0.32],[2002.42,0.18],[2002.48,0],[2002.59,-0.04],[2002.64,-0.05],[2002.69,0.08],[2002.8,0.13],[2002.91,0.18],[2002.96,0.15],[2003.02,0.2],[2003.12,0.22],[2003.23,0.35],[2003.34,0.25],[2003.39,0.3],[2003.45,0.3],[2003.55,0.32],[2003.66,0.34],[2003.77,0.52],[2003.85,0.58],[2003.93,0.49],[2004.04,0.37],[2004.14,0.22],[2004.25,0.15],[2004.31,0.14],[2004.41,0.13],[2004.52,0.11],[2004.63,0.13],[2004.74,0.3],[2004.84,0.29],[2004.95,0.23],[2005.06,0.15],[2005.17,0.23],[2005.27,0.28],[2005.38,0.3],[2005.49,0.25],[2005.6,0.26],[2005.7,0.28],[2005.81,0.23],[2005.92,0.13],[2006.03,0.06],[2006.13,0.05],[2006.24,0.05],[2006.35,0],[2006.4,0.18],[2006.45,0.4],[2006.56,0.45],[2006.67,0.43],[2006.77,0.4],[2006.88,0.42],[2006.99,0.4],[2007.1,0.47],[2007.15,0.38],[2007.26,0.23],[2007.31,0.13],[2007.42,0.08],[2007.53,0.1],[2007.63,0.05],[2007.74,0.16],[2007.85,0.2],[2007.96,0.3],[2008.06,0.36],[2008.17,0.28],[2008.28,0.08],[2008.39,0.03],[2008.49,0.1],[2008.6,0.13],[2008.71,0.12],[2008.82,0.13],[2008.92,0.04],[2009.03,0.03],[2009.14,-0.07],[2009.25,-0.2],[2009.3,-0.24],[2009.35,-0.17],[2009.46,-0.15],[2009.57,-0.15],[2009.68,-0.12],[2009.79,-0.17],[2009.89,-0.12],[2009.99,-0.17],[2010.05,-0.21],[2010.11,-0.04],[2010.21,0.15],[2010.32,0.25],[2010.43,0.35],[2010.54,0.43],[2010.64,0.58],[2010.75,0.63],[2010.86,0.55],[2010.97,0.45],[2011.07,0.28],[2011.18,0.18],[2011.29,0.28],[2011.4,0.2],[2011.5,0.13],[2011.61,0.15],[2011.72,0.08],[2011.83,0.05],[2011.93,0.01],[2012.04,0.03],[2012.15,0.11],[2012.25,0.35],[2012.31,0.36]];
const kansasWheat = [[1995.05,0.25],[1995.11,0.34],[1995.16,0.4],[1995.27,0.59],[1995.38,0.58],[1995.43,0.54],[1995.48,0.45],[1995.54,0.3],[1995.59,0.13],[1995.65,-0.01],[1995.7,-0.07],[1995.81,-0.11],[1995.86,-0.05],[1995.91,0.15],[1995.97,0.33],[1996.04,0.63],[1996.13,0.53],[1996.24,0.52],[1996.29,0.38],[1996.35,0.18],[1996.45,-0.1],[1996.51,-0.31],[1996.61,-0.4],[1996.69,-0.48],[1996.78,-0.15],[1996.83,0.1],[1996.88,0.18],[1996.94,0.23],[1996.99,0.2],[1997.1,0.1],[1997.2,0.08],[1997.31,0.01],[1997.42,0.03],[1997.53,0],[1997.64,0.08],[1997.74,0.09],[1997.8,0.11],[1997.96,0.06],[1998.07,-0.07],[1998.12,-0.31],[1998.28,-0.32],[1998.39,-0.2],[1998.5,-0.12],[1998.6,-0.05],[1998.71,0.04],[1998.82,0.03],[1998.93,-0.05],[1999.03,-0.07],[1999.14,-0.21],[1999.19,-0.15],[1999.25,-0.16],[1999.36,-0.16],[1999.46,-0.14],[1999.57,-0.05],[1999.68,0.03],[1999.79,0.06],[1999.89,-0.05],[1999.99,-0.12],[2000.11,-0.2],[2000.22,-0.26],[2000.33,-0.17],[2000.43,-0.06],[2000.54,-0.07],[2000.59,-0.01],[2000.65,-0.07],[2000.7,-0.02],[2000.76,-0.07],[2000.81,-0.05],[2000.86,-0.1],[2000.92,-0.07],[2000.97,-0.07],[2001.08,-0.09],[2001.19,-0.1],[2001.3,-0.12],[2001.4,-0.12],[2001.51,-0.2],[2001.62,-0.14],[2001.72,-0.15],[2001.78,-0.11],[2001.83,-0.05],[2001.94,-0.01],[2002,-0.07],[2002.05,0.05],[2002.16,0.21],[2002.26,0.2],[2002.37,0.05],[2002.48,-0.2],[2002.53,-0.29],[2002.59,-0.65],[2002.69,-0.69],[2002.8,-0.43],[2002.91,-0.41],[2003.02,-0.12],[2003.12,-0.02],[2003.23,0.24],[2003.34,0.18],[2003.45,0.15],[2003.55,0.06],[2003.66,0.06],[2003.77,0.13],[2003.88,0.18],[2003.98,0.15],[2004.09,0.11],[2004.2,0],[2004.31,-0.12],[2004.41,-0.12],[2004.52,-0.3],[2004.63,-0.31],[2004.68,-0.3],[2004.74,-0.31],[2004.84,-0.2],[2004.95,-0.19],[2005,-0.12],[2005.06,-0.2],[2005.17,-0.2],[2005.27,-0.25],[2005.38,-0.2],[2005.49,-0.15],[2005.6,-0.15],[2005.7,0.13],[2005.81,0.09],[2005.92,0.18],[2006.03,0.21],[2006.13,0.15],[2006.24,0.08],[2006.35,0.03],[2006.45,0.28],[2006.56,0.25],[2006.67,0.23],[2006.77,0.18],[2006.88,0.15],[2006.99,0.3],[2007.1,0.38],[2007.2,0.45],[2007.26,0.28],[2007.37,0.23],[2007.47,0.15],[2007.53,0.3],[2007.63,0.2],[2007.74,0],[2007.85,-0.02],[2007.96,-0.07],[2008.06,-0.1],[2008.12,-0.02],[2008.17,-0.07],[2008.22,-0.12],[2008.28,-0.15],[2008.39,-0.07],[2008.49,-0.15],[2008.6,-0.12],[2008.71,-0.06],[2008.76,-0.09],[2008.82,-0.07],[2008.92,-0.14],[2009.03,-0.18],[2009.14,-0.25],[2009.25,-0.29],[2009.35,-0.26],[2009.46,-0.23],[2009.57,-0.2],[2009.68,-0.21],[2009.79,-0.26],[2009.89,-0.3],[2009.99,-0.35],[2010.11,-0.17],[2010.16,0],[2010.27,0.05],[2010.38,0.09],[2010.48,0.1],[2010.54,0.18],[2010.64,0.39],[2010.7,0.37],[2010.75,0.34],[2010.8,0.37],[2010.86,0.23],[2010.97,0.15],[2011.07,-0.02],[2011.18,-0.04],[2011.29,0],[2011.4,0],[2011.45,0.03],[2011.5,-0.05],[2011.61,-0.02],[2011.72,0],[2011.83,-0.02],[2011.93,-0.1],[2011.99,-0.11],[2012.04,0],[2012.1,0.13],[2012.15,0.14],[2012.25,0.18],[2012.31,0.2]];

// (d) meats
const feederCattle = [[1995.11,0.03],[1995.22,0.06],[1995.38,0.08],[1995.48,0.06],[1995.59,-0.04],[1995.7,-0.18],[1995.81,-0.11],[1995.91,-0.11],[1995.97,-0.1],[1996.02,-0.21],[1996.13,-0.12],[1996.24,-0.14],[1996.35,0],[1996.45,0.01],[1996.56,0],[1996.67,-0.04],[1996.78,-0.11],[1996.88,-0.21],[1996.99,-0.11],[1997.1,-0.09],[1997.2,-0.04],[1997.31,-0.02],[1997.42,-0.04],[1997.53,-0.06],[1997.64,-0.04],[1997.74,-0.07],[1997.85,-0.11],[1997.96,-0.07],[1998.07,0],[1998.17,-0.04],[1998.28,-0.11],[1998.39,-0.11],[1998.5,0.1],[1998.55,0.17],[1998.66,0.06],[1998.71,-0.07],[1998.82,-0.09],[1998.93,-0.04],[1999.03,-0.04],[1999.14,0],[1999.25,0.06],[1999.36,0.1],[1999.46,0.11],[1999.57,0.1],[1999.68,0.03],[1999.79,-0.04],[1999.89,-0.06],[1999.99,-0.07],[2000.11,-0.09],[2000.22,-0.07],[2000.33,-0.04],[2000.43,0.08],[2000.49,0.13],[2000.54,0.08],[2000.65,0.06],[2000.76,0.01],[2000.86,-0.04],[2000.97,-0.02],[2001.08,-0.04],[2001.19,0.01],[2001.3,0.03],[2001.4,0],[2001.51,-0.04],[2001.62,-0.02],[2001.72,0.01],[2001.83,0],[2001.94,-0.02],[2002.05,0.03],[2002.16,0.05],[2002.26,0.03],[2002.37,0.06],[2002.42,0],[2002.48,-0.06],[2002.59,-0.09],[2002.69,-0.09],[2002.8,-0.02],[2002.91,-0.01],[2003.02,0.05],[2003.12,0.08],[2003.23,0.1],[2003.34,0.03],[2003.45,0],[2003.55,-0.12],[2003.66,-0.18],[2003.77,0.06],[2003.88,-0.02],[2003.98,0.1],[2004.09,0.35],[2004.2,0.27],[2004.31,0.17],[2004.41,0.1],[2004.52,0.03],[2004.63,-0.11],[2004.74,-0.04],[2004.84,0.1],[2004.95,0.17],[2005.06,0.17],[2005.17,0.13],[2005.27,0.11],[2005.38,0.13],[2005.49,0.13],[2005.6,0.17],[2005.7,0.17],[2005.81,0.17],[2005.92,0.13],[2006.03,0.15],[2006.13,0.17],[2006.24,0.22],[2006.35,0.17],[2006.45,-0.04],[2006.56,-0.11],[2006.67,-0.07],[2006.77,0.18],[2006.83,0.2],[2006.93,0.16],[2006.99,0.18],[2007.1,0.13],[2007.2,0.11],[2007.31,0.06],[2007.42,-0.01],[2007.53,0.03],[2007.63,0],[2007.74,0.3],[2007.8,0.34],[2007.9,0.17],[2008.01,-0.04],[2008.06,0.2],[2008.17,0.06],[2008.28,0],[2008.39,-0.04],[2008.49,-0.04],[2008.6,0],[2008.71,0.1],[2008.82,0.06],[2008.92,0.03],[2009.03,0.06],[2009.14,0.03],[2009.25,0],[2009.35,-0.04],[2009.46,0.03],[2009.57,0.18],[2009.68,0.13],[2009.79,0.13],[2009.89,0.25],[2009.99,0.1],[2010.11,0.06],[2010.21,0.08],[2010.32,0.05],[2010.43,0.03],[2010.54,0.13],[2010.64,0.15],[2010.75,0.15],[2010.86,0.13],[2010.97,0.12],[2011.07,0.08],[2011.18,0.03],[2011.29,-0.02],[2011.4,0.1],[2011.5,0.13],[2011.61,0.1],[2011.72,0.08],[2011.83,0.11],[2011.93,-0.06],[2012.04,-0.07],[2012.15,-0.04],[2012.25,-0.09],[2012.31,-0.05]];
const leanHogs = [[1995.11,0.34],[1995.16,0.27],[1995.22,0.3],[1995.27,0.32],[1995.38,0.3],[1995.43,0.35],[1995.48,0.3],[1995.54,0],[1995.59,-0.07],[1995.65,-0.14],[1995.7,-0.62],[1995.75,-1.05],[1995.79,-1.2],[1995.86,-1.13],[1995.91,-1.03],[1995.95,-1.22],[1996,-1.29],[1996.08,-1.07],[1996.13,-0.62],[1996.18,-0.28],[1996.24,0.23],[1996.35,0.59],[1996.4,0.68],[1996.45,0.82],[1996.56,0.83],[1996.61,0.82],[1996.67,0.61],[1996.72,0.2],[1996.78,0.15],[1996.83,0.23],[1996.88,0.49],[1996.94,0.69],[1997.02,0.87],[1997.1,0.71],[1997.15,0.61],[1997.2,0.59],[1997.26,0.63],[1997.31,0.58],[1997.42,0.23],[1997.53,-0.18],[1997.64,-0.38],[1997.69,-0.35],[1997.74,-0.24],[1997.85,0.2],[1997.88,0.22],[1997.96,0.06],[1998.07,0],[1998.12,-0.16],[1998.17,-0.21],[1998.28,-0.48],[1998.33,-0.62],[1998.39,-0.59],[1998.5,-0.42],[1998.55,-0.32],[1998.6,-0.32],[1998.71,-0.48],[1998.76,-0.48],[1998.82,-0.04],[1998.87,0.41],[1998.98,0.44],[1999.03,0.41],[1999.14,0.06],[1999.19,-0.28],[1999.25,-0.52],[1999.36,-0.45],[1999.46,-0.28],[1999.57,-0.18],[1999.68,-0.04],[1999.79,0.2],[1999.84,0.58],[1999.92,0.7],[1999.98,0.47],[2000.05,0.44],[2000.11,0.37],[2000.22,0],[2000.27,-0.11],[2000.33,-0.14],[2000.43,0.1],[2000.49,0.17],[2000.59,0.27],[2000.65,0.34],[2000.76,0.34],[2000.81,0.52],[2000.92,0.5],[2000.97,0.4],[2001.08,0.27],[2001.19,-0.11],[2001.24,-0.11],[2001.3,-0.12],[2001.4,-0.09],[2001.46,-0.04],[2001.51,0.2],[2001.62,0.39],[2001.67,0.37],[2001.72,0.49],[2001.83,0.52],[2001.94,0.53],[2001.99,0.47],[2002.05,0.27],[2002.1,-0.11],[2002.16,-0.62],[2002.21,-0.79],[2002.26,-0.91],[2002.32,-0.28],[2002.37,-0.11],[2002.42,0.1],[2002.48,0.27],[2002.59,0.51],[2002.69,0.41],[2002.8,0.35],[2002.85,0.37],[2002.91,0.3],[2003.02,0.23],[2003.12,0.15],[2003.23,-0.07],[2003.34,0.18],[2003.45,0.27],[2003.55,0.34],[2003.66,0.03],[2003.77,-0.06],[2003.88,0.35],[2003.98,0.35],[2004.09,0.41],[2004.2,0.51],[2004.31,0.58],[2004.41,0.56],[2004.52,0.37],[2004.63,0.3],[2004.74,0.29],[2004.79,0.44],[2004.84,0.58],[2004.9,0.87],[2004.95,0.85],[2005.06,0.66],[2005.17,0.44],[2005.27,0.23],[2005.33,0.58],[2005.38,0.61],[2005.44,0.56],[2005.49,0.61],[2005.54,0.54],[2005.6,0.63],[2005.65,0.41],[2005.7,0.47],[2005.81,0.59],[2005.92,0.58],[2006.03,0.41],[2006.13,0.27],[2006.24,0.2],[2006.3,0.35],[2006.4,0.32],[2006.45,0.32],[2006.56,0.06],[2006.67,-0.04],[2006.77,0.27],[2006.83,0.42],[2006.88,0.44],[2006.99,0.06],[2007.1,0],[2007.15,-0.04],[2007.2,0.52],[2007.31,0.47],[2007.42,0.4],[2007.47,0.15],[2007.53,0.2],[2007.58,-0.04],[2007.63,0],[2007.74,-0.04],[2007.8,0.13],[2007.85,0],[2007.96,-0.11],[2008.01,-0.07],[2008.12,-0.16],[2008.17,-0.11],[2008.28,0],[2008.33,-0.04],[2008.39,-0.28],[2008.44,-0.11],[2008.49,0.03],[2008.55,0.15],[2008.65,0.37],[2008.71,0.23],[2008.82,0.47],[2008.87,0.37],[2008.92,0.37],[2009.03,0.1],[2009.08,-0.11],[2009.14,-0.24],[2009.25,-0.28],[2009.3,-0.35],[2009.35,-0.21],[2009.46,0],[2009.57,0.2],[2009.68,0.06],[2009.79,0.2],[2009.89,0.54],[2009.99,0.42],[2010.05,0.4],[2010.11,0.27],[2010.21,0.27],[2010.32,0.27],[2010.43,0.06],[2010.54,0.22],[2010.64,0.32],[2010.75,0.64],[2010.86,0.42],[2010.97,0.39],[2011.07,0.25],[2011.18,0.13],[2011.29,0.17],[2011.4,0.2],[2011.5,0.19],[2011.61,0.13],[2011.72,0.12],[2011.77,0.49],[2011.88,0.4],[2011.99,0.35],[2012.04,0.34],[2012.15,-0.18],[2012.25,-0.2],[2012.31,-0.21]];
const liveCattle = [[1995.11,-0.06],[1995.16,0.03],[1995.27,0.13],[1995.38,0.17],[1995.48,0.13],[1995.59,0.11],[1995.7,0.08],[1995.81,0.1],[1995.91,0.11],[1995.97,0.05],[1996.02,0.18],[1996.08,0.1],[1996.18,0.03],[1996.24,-0.04],[1996.35,-0.23],[1996.45,-0.35],[1996.56,-0.28],[1996.67,-0.25],[1996.78,-0.14],[1996.88,-0.2],[1996.99,-0.27],[1997.04,-0.26],[1997.1,-0.18],[1997.15,-0.12],[1997.2,-0.07],[1997.31,-0.07],[1997.42,-0.06],[1997.53,0.06],[1997.64,0.04],[1997.74,-0.04],[1997.85,0.03],[1997.96,0.06],[1998.07,0.06],[1998.17,0.04],[1998.28,-0.04],[1998.39,-0.12],[1998.5,-0.19],[1998.6,-0.14],[1998.71,-0.11],[1998.76,0.06],[1998.82,-0.11],[1998.93,-0.18],[1999.03,-0.19],[1999.14,-0.14],[1999.25,-0.16],[1999.36,-0.14],[1999.46,-0.11],[1999.57,-0.04],[1999.68,-0.02],[1999.79,0.03],[1999.89,0],[1999.99,-0.09],[2000.11,-0.12],[2000.22,-0.11],[2000.33,-0.11],[2000.43,-0.07],[2000.54,-0.11],[2000.65,0.06],[2000.76,-0.04],[2000.86,-0.14],[2000.92,-0.18],[2000.97,-0.12],[2001.08,0],[2001.19,0.01],[2001.3,-0.02],[2001.4,-0.14],[2001.46,-0.11],[2001.51,0.05],[2001.62,0.1],[2001.67,0.11],[2001.72,0.05],[2001.83,-0.07],[2001.89,-0.19],[2001.94,-0.21],[2002.05,-0.09],[2002.16,0.03],[2002.26,0.1],[2002.37,0.1],[2002.48,0.2],[2002.53,0.23],[2002.59,0.25],[2002.64,0.17],[2002.69,0.03],[2002.8,-0.07],[2002.91,-0.19],[2003.02,-0.28],[2003.12,-0.11],[2003.23,-0.07],[2003.34,0],[2003.45,0.05],[2003.55,-0.04],[2003.66,-0.14],[2003.77,-0.19],[2003.88,-0.11],[2003.98,0.06],[2004.09,0.18],[2004.2,0.13],[2004.31,0.17],[2004.41,0.06],[2004.52,0],[2004.63,0],[2004.74,-0.02],[2004.84,0],[2004.95,0.06],[2005.06,0.1],[2005.17,0.13],[2005.27,0.17],[2005.38,0.13],[2005.49,0.17],[2005.6,0.06],[2005.7,-0.04],[2005.81,-0.13],[2005.92,-0.23],[2006.03,-0.04],[2006.13,0.15],[2006.19,0.2],[2006.24,0.17],[2006.35,0.06],[2006.45,0.06],[2006.56,0.08],[2006.67,0.11],[2006.77,0.1],[2006.88,0.03],[2006.99,0.05],[2007.1,0.06],[2007.2,0.13],[2007.26,0.15],[2007.31,0.1],[2007.42,0.06],[2007.53,0.03],[2007.63,0.01],[2007.74,0.05],[2007.85,0.01],[2007.96,0.13],[2008.06,0.17],[2008.12,0.05],[2008.22,0],[2008.33,-0.11],[2008.39,-0.17],[2008.49,-0.09],[2008.6,-0.04],[2008.71,-0.02],[2008.82,-0.07],[2008.92,-0.12],[2009.03,-0.09],[2009.14,-0.07],[2009.25,-0.06],[2009.3,-0.14],[2009.35,-0.16],[2009.46,-0.11],[2009.57,-0.04],[2009.68,0.05],[2009.79,0.13],[2009.89,0.1],[2009.95,-0.04],[2009.99,-0.07],[2010.11,-0.06],[2010.21,-0.11],[2010.32,-0.09],[2010.43,-0.04],[2010.54,0.06],[2010.64,0.13],[2010.75,0.18],[2010.86,0.17],[2010.97,0.1],[2011.07,0.03],[2011.18,0.05],[2011.29,-0.17],[2011.4,-0.14],[2011.5,0],[2011.61,0.06],[2011.72,0.1],[2011.83,0.11],[2011.93,-0.04],[2012.04,-0.06],[2012.15,-0.11],[2012.25,-0.14],[2012.31,-0.1]];

const TEAL = '#1794b6';
const ORANGE = '#f58b1f';
const GREEN = '#7bb31c';
const CRIMSON = '#a50057';
const INDIGO = '#3d0599';
const FONT = '"Liberation Sans", Arial, Helvetica, sans-serif';

function fmt(v) {
    let s = String(Math.round(v * 100) / 100);
    return v < 0 ? '\u2212' + s.slice(1) : s;
}

// inward tick marks and box, matlab style
const framePlugin = {
    id: 'frame',
    afterDatasetsDraw(chart) {
        const { ctx, chartArea: a, scales: { x, y } } = chart;
        ctx.save();
        ctx.strokeStyle = '#262626';
        ctx.lineWidth = 1;
        ctx.beginPath();
        x.ticks.forEach(t => {
            const px = Math.round(x.getPixelForValue(t.value)) + 0.5;
            ctx.moveTo(px, a.bottom); ctx.lineTo(px, a.bottom - 5);
            ctx.moveTo(px, a.top); ctx.lineTo(px, a.top + 5);
        });
        y.ticks.forEach(t => {
            const py = Math.round(y.getPixelForValue(t.value)) + 0.5;
            ctx.moveTo(a.left, py); ctx.lineTo(a.left + 5, py);
            ctx.moveTo(a.right, py); ctx.lineTo(a.right - 5, py);
        });
        ctx.stroke();
        ctx.strokeRect(Math.round(a.left) + 0.5, Math.round(a.top) + 0.5,
            Math.round(a.right - a.left) - 1, Math.round(a.bottom - a.top) - 1);
        ctx.restore();
    }
};

// legend drawn inside the top right corner, no box
const legendPlugin = {
    id: 'insideLegend',
    afterDraw(chart) {
        const { ctx, chartArea: a } = chart;
        const sets = chart.data.datasets;
        ctx.save();
        ctx.font = '11.5px ' + FONT;
        const w = Math.max(...sets.map(d => ctx.measureText(d.label).width));
        const tx = a.right - 11 - w;
        sets.forEach((d, i) => {
            const yy = Math.round(a.top + 15.5 + i * 14.8);
            ctx.strokeStyle = d.borderColor;
            ctx.lineWidth = 2;
            ctx.setLineDash(d.borderDash || []);
            ctx.beginPath();
            ctx.moveTo(tx - 38, yy);
            ctx.lineTo(tx - 4, yy);
            ctx.stroke();
            ctx.setLineDash([]);
            ctx.fillStyle = '#111';
            ctx.textBaseline = 'middle';
            ctx.fillText(d.label, tx, yy + 0.5);
        });
        ctx.restore();
    }
};

function makePanel(id, canvasId, box, xMax, yMin, yMax, yTicks, series) {
    const padTop = 12, axisW = 36, axisH = 26, padRight = 8;
    const wrap = document.getElementById(id);
    const cv = document.getElementById(canvasId);
    const width = box.right - box.left + axisW + padRight;
    const height = box.bottom - box.top + padTop + axisH;
    wrap.style.left = (box.left - axisW) + 'px';
    wrap.style.top = (box.top - padTop) + 'px';
    cv.width = width;
    cv.height = height;
    cv.style.width = width + 'px';
    cv.style.height = height + 'px';

    const n = series.length;
    new Chart(cv, {
        type: 'line',
        data: {
            datasets: series.map((s, i) => ({
                label: s.label,
                data: s.data.map(p => ({ x: p[0], y: p[1] })),
                borderColor: s.color,
                borderWidth: 2,
                borderDash: s.dash || [],
                pointRadius: 0,
                tension: 0,
                fill: false,
                order: n - i
            }))
        },
        options: {
            responsive: false,
            animation: false,
            devicePixelRatio: 1,
            layout: { padding: { top: padTop, right: padRight, left: 0, bottom: 0 } },
            plugins: { legend: { display: false }, tooltip: { enabled: false } },
            scales: {
                x: {
                    type: 'linear', min: 1995, max: xMax,
                    grid: { display: false, drawTicks: false },
                    border: { display: false },
                    afterBuildTicks: s => { s.ticks = xTicks.map(v => ({ value: v })); },
                    afterFit: s => { s.height = axisH; },
                    ticks: { color: '#222', padding: 5, maxRotation: 0, font: { size: 11, family: FONT }, callback: v => String(v) }
                },
                y: {
                    type: 'linear', min: yMin, max: yMax,
                    grid: { display: false, drawTicks: false },
                    border: { display: false },
                    afterBuildTicks: s => { s.ticks = yTicks.map(v => ({ value: v })); },
                    afterFit: s => { s.width = axisW; },
                    ticks: { color: '#222', padding: 5, font: { size: 11, family: FONT }, callback: v => fmt(v) }
                }
            }
        },
        plugins: [framePlugin, legendPlugin]
    });
}

makePanel('pa', 'ca', { left: 36, top: 62, right: 572, bottom: 484 }, 2012.29, -1.321, 1.764, yTicksEnergy, [
    { label: 'Brent crude oil', data: brent, color: TEAL },
    { label: 'WTI crude oil', data: wti, color: ORANGE },
    { label: 'Gasoil', data: gasoil, color: GREEN },
    { label: 'Heating oil', data: heatingOil, color: CRIMSON },
    { label: 'Natural gas', data: naturalGas, color: INDIGO },
    { label: 'Gasoline', data: gasoline, color: TEAL, dash: [6, 4] }
]);
makePanel('pb', 'cb', { left: 616, top: 62, right: 1150, bottom: 484 }, 2012.23, -0.929, 1.075, yTicksSofts, [
    { label: 'Cocoa', data: cocoa, color: TEAL },
    { label: 'Coffee', data: coffee, color: ORANGE },
    { label: 'Cotton', data: cotton, color: GREEN },
    { label: 'Sugar', data: sugar, color: CRIMSON }
]);
makePanel('pc', 'cc', { left: 36, top: 608, right: 572, bottom: 1030 }, 2012.29, -0.688, 0.902, yTicksGrains, [
    { label: 'Corn', data: corn, color: TEAL },
    { label: 'Soybeans', data: soybeans, color: ORANGE },
    { label: 'Chicago wheat', data: chicagoWheat, color: GREEN },
    { label: 'Kansas wheat', data: kansasWheat, color: CRIMSON }
]);
makePanel('pd', 'cd', { left: 616, top: 608, right: 1150, bottom: 1030 }, 2012.23, -1.295, 0.878, yTicksMeats, [
    { label: 'Feeder cattle', data: feederCattle, color: TEAL },
    { label: 'Lean hogs', data: leanHogs, color: ORANGE },
    { label: 'Live cattle', data: liveCattle, color: GREEN }
]);
</script>
</body>
</html>
